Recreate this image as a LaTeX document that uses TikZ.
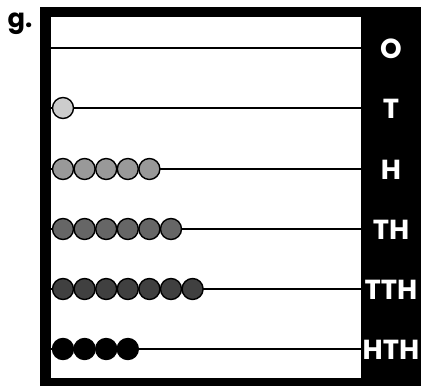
\documentclass[tikz,border=0pt]{standalone}
\usepackage{fontspec}
\setmainfont{Poppins}
\usepackage{tikz}
\usetikzlibrary{positioning}
\definecolor{beadT}{HTML}{CCCCCC}
\definecolor{beadH}{HTML}{999999}
\definecolor{beadTH}{HTML}{666666}
\definecolor{beadTTH}{HTML}{404040}
\definecolor{beadHTH}{HTML}{000000}
\definecolor{beadO}{HTML}{FFFFFF}
\tikzset{
  rod/.style={line width=1.7pt,color=black},
  bead/.style={circle,draw=black,line width=1.2pt,minimum size=0.63cm,inner sep=0pt},
  placelab/.style={text=white,font=\bfseries\fontsize{23.5}{23.5}\selectfont,inner sep=0pt},
  tagtext/.style={font=\bfseries\fontsize{22}{22}\selectfont,inner sep=0pt,anchor=base}
}
\begin{document}
\begin{tikzpicture}[x=0.03cm,y=-0.03cm]
  \useasboundingbox (0,0) rectangle (423,388);
  \node[tagtext] (tag) at (20,27) {g.};
  % frame and label column
  \fill[black] (40,7) rectangle (421,386);
  \fill[white] (51,17) rectangle (361,378);
  \foreach \lab/\n/\y [count=\r] in {O/0/48, T/1/108, H/5/169, TH/6/229, TTH/7/289, HTH/4/349} {
    \coordinate (rod\r) at (51,\y);
    \coordinate (end\r) at (361,\y);
    \draw[rod] (rod\r) -- (end\r);
    \node[placelab] (lab\r) at (391,\y+1) {\lab};
    \ifnum\n>0
      \foreach \k in {1,...,\n}
        \node[bead,fill=bead\lab] (b\r-\k) at (63+21.6*\k-21.6,\y) {};
    \fi
  }
\end{tikzpicture}
\end{document}
